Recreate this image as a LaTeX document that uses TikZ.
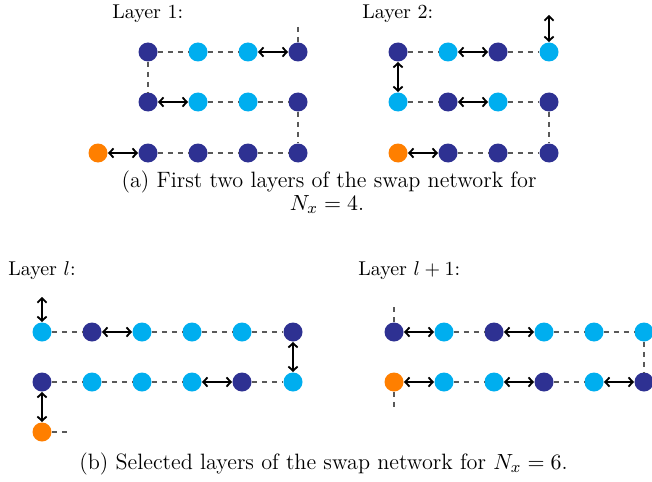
\documentclass[tikz,border=0pt]{standalone}
\usepackage{tikz}
\usetikzlibrary{arrows.meta}
\definecolor{qdark}{RGB}{46,49,146}
\definecolor{qlight}{RGB}{0,174,239}
\definecolor{qorange}{RGB}{255,127,0}

\begin{document}
\begin{tikzpicture}[x=0.5pt,y=-0.5pt,>={Straight Barb[length=2.2pt,width=4.6pt]},
    dot/.style={circle,inner sep=0pt,minimum size=9.5pt},
    dk/.style={dot,fill=qdark}, lt/.style={dot,fill=qlight}, og/.style={dot,fill=qorange},
    lnk/.style={dashed,dash pattern=on 2.5pt off 2.5pt,line width=0.6pt,black!65},
    sw/.style={<->,line width=0.9pt},
    lbl/.style={anchor=base west,inner sep=0pt},
    captxt/.style={anchor=base,inner sep=0pt,font=\fontsize{11.1}{13}\selectfont}]
    \useasboundingbox (0,0) rectangle (652,481);
    % (a) layer 1
    \node[lbl] (la) at (112,19) {Layer 1:};
    \node[dk] (a1) at (148,52) {}; \node[lt] (a2) at (198,52) {}; \node[lt] (a3) at (248,52) {}; \node[dk] (a4) at (298,52) {};
    \node[dk] (a5) at (148,102) {}; \node[lt] (a6) at (198,102) {}; \node[lt] (a7) at (248,102) {}; \node[dk] (a8) at (298,102) {};
    \node[og] (a0) at (98,153) {}; \node[dk] (a9) at (148,153) {}; \node[dk] (a10) at (198,153) {}; \node[dk] (a11) at (248,153) {}; \node[dk] (a12) at (298,153) {};
    \coordinate (at) at (298,27);
    \draw[lnk] (at)--(a4); \draw[lnk] (a1)--(a2)--(a3); \draw[sw] (a3)--(a4);
    \draw[lnk] (a1)--(a5); \draw[sw] (a5)--(a6); \draw[lnk] (a6)--(a7)--(a8);
    \draw[lnk] (a8)--(a12); \draw[sw] (a0)--(a9); \draw[lnk] (a9)--(a10)--(a11)--(a12);
    % (a) layer 2
    \node[lbl] (lb) at (362,19) {Layer 2:};
    \node[dk] (b1) at (398,52) {}; \node[lt] (b2) at (448,52) {}; \node[dk] (b3) at (498,52) {}; \node[lt] (b4) at (549,52) {};
    \node[lt] (b5) at (398,102) {}; \node[dk] (b6) at (448,102) {}; \node[lt] (b7) at (498,102) {}; \node[dk] (b8) at (549,102) {};
    \node[og] (b0) at (398,153) {}; \node[dk] (b9) at (448,153) {}; \node[dk] (b10) at (498,153) {}; \node[dk] (b11) at (549,153) {};
    \coordinate (bt) at (549,15);
    \draw[sw] (bt)--(b4); \draw[lnk] (b1)--(b2); \draw[sw] (b2)--(b3); \draw[lnk] (b3)--(b4);
    \draw[sw] (b1)--(b5); \draw[lnk] (b5)--(b6); \draw[sw] (b6)--(b7); \draw[lnk] (b7)--(b8);
    \draw[lnk] (b8)--(b11); \draw[sw] (b0)--(b9); \draw[lnk] (b9)--(b10)--(b11);
    \node[captxt] (ca1) at (329,187) {(a) First two layers of the swap network for};
    \node[captxt] (ca2) at (327,210) {$N_x=4$.};
    % (b) layer l
    \node[lbl] (lc) at (8,275.5) {Layer $l$:};
    \node[lt] (c1) at (42,332) {}; \node[dk] (c2) at (92,332) {}; \node[lt] (c3) at (142,332) {}; \node[lt] (c4) at (192,332) {}; \node[lt] (c5) at (242,332) {}; \node[dk] (c6) at (293,332) {};
    \node[dk] (c7) at (42,382) {}; \node[lt] (c8) at (92,382) {}; \node[lt] (c9) at (142,382) {}; \node[lt] (c10) at (192,382) {}; \node[dk] (c11) at (242,382) {}; \node[lt] (c12) at (293,382) {};
    \node[og] (c0) at (42,432) {};
    \coordinate (ct) at (42,297); \coordinate (cs) at (68,432);
    \draw[sw] (ct)--(c1); \draw[lnk] (c1)--(c2); \draw[sw] (c2)--(c3); \draw[lnk] (c3)--(c4)--(c5)--(c6);
    \draw[sw] (c6)--(c12); \draw[lnk] (c7)--(c8)--(c9)--(c10); \draw[sw] (c10)--(c11); \draw[lnk] (c11)--(c12);
    \draw[sw] (c7)--(c0); \draw[lnk] (c0)--(cs);
    % (b) layer l+1
    \node[lbl] (ld) at (358,275.5) {Layer $l+1$:};
    \node[dk] (d1) at (394,332) {}; \node[lt] (d2) at (444,332) {}; \node[dk] (d3) at (494,332) {}; \node[lt] (d4) at (544,332) {}; \node[lt] (d5) at (594,332) {}; \node[lt] (d6) at (644,332) {};
    \node[og] (d0) at (394,382) {}; \node[lt] (d7) at (444,382) {}; \node[lt] (d8) at (494,382) {}; \node[dk] (d9) at (544,382) {}; \node[lt] (d10) at (594,382) {}; \node[dk] (d11) at (644,382) {};
    \coordinate (dt) at (394,307); \coordinate (db) at (394,407);
    \draw[lnk] (dt)--(d1); \draw[sw] (d1)--(d2); \draw[lnk] (d2)--(d3); \draw[sw] (d3)--(d4); \draw[lnk] (d4)--(d5)--(d6);
    \draw[lnk] (d6)--(d11); \draw[sw] (d0)--(d7); \draw[lnk] (d7)--(d8); \draw[sw] (d8)--(d9); \draw[lnk] (d9)--(d10); \draw[sw] (d10)--(d11);
    \draw[lnk] (d0)--(db);
    \node[captxt] (cb) at (323.5,469) {(b) Selected layers of the swap network for $N_x=6$.};
  \end{tikzpicture}
\end{document}
